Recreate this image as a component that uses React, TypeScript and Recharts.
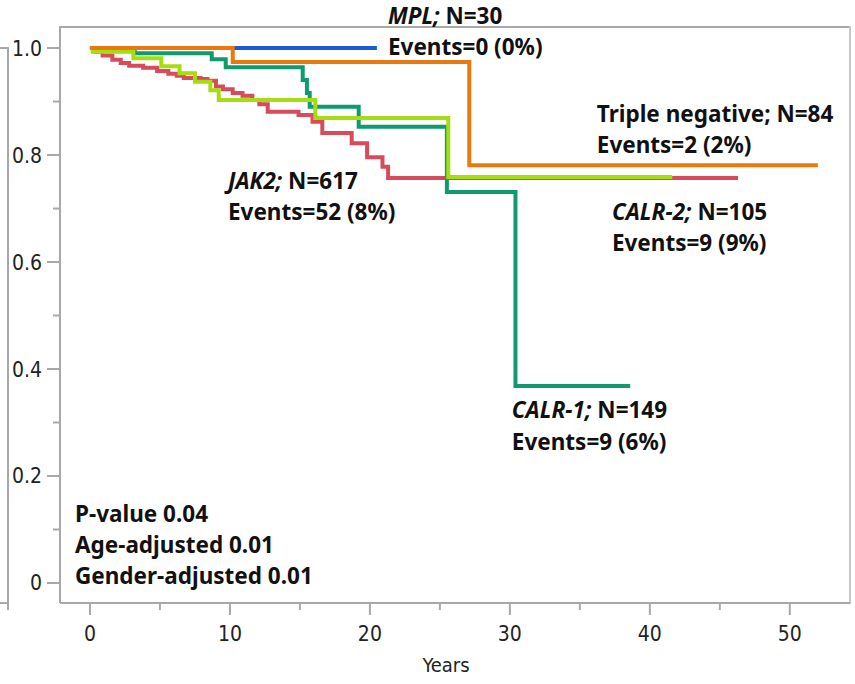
import { LineChart, Line, XAxis, YAxis, ReferenceDot } from 'recharts';

// survival curves (years -> probability)
const mplCurve = [
  { t: 0, v: 1 },
  { t: 20.5, v: 1 },
];
const jak2Curve = [
  { t: 0, v: 1 }, { t: 0.4, v: 0.993 }, { t: 0.9, v: 0.986 }, { t: 1.6, v: 0.978 },
  { t: 2.2, v: 0.972 }, { t: 2.8, v: 0.967 }, { t: 3.8, v: 0.963 }, { t: 4.8, v: 0.957 },
  { t: 5.6, v: 0.952 }, { t: 6.2, v: 0.948 }, { t: 6.7, v: 0.944 }, { t: 7.9, v: 0.942 },
  { t: 8.4, v: 0.939 }, { t: 9.0, v: 0.928 }, { t: 9.5, v: 0.923 }, { t: 10.2, v: 0.916 },
  { t: 10.9, v: 0.911 }, { t: 11.6, v: 0.903 }, { t: 12.1, v: 0.895 }, { t: 12.7, v: 0.881 },
  { t: 14.9, v: 0.875 }, { t: 15.9, v: 0.862 }, { t: 16.6, v: 0.841 }, { t: 18.7, v: 0.822 },
  { t: 19.8, v: 0.796 }, { t: 20.9, v: 0.778 }, { t: 21.3, v: 0.757 }, { t: 46.3, v: 0.757 },
];
const calr1Curve = [
  { t: 0, v: 1 }, { t: 3.2, v: 0.99 }, { t: 8.7, v: 0.979 }, { t: 9.7, v: 0.964 },
  { t: 15.2, v: 0.94 }, { t: 15.5, v: 0.916 }, { t: 15.7, v: 0.89 }, { t: 19.2, v: 0.853 },
  { t: 25.5, v: 0.731 }, { t: 30.4, v: 0.368 }, { t: 38.6, v: 0.368 },
];
const calr2Curve = [
  { t: 0, v: 1 }, { t: 0.2, v: 0.993 }, { t: 3.1, v: 0.981 }, { t: 5.1, v: 0.966 },
  { t: 6.4, v: 0.953 }, { t: 7.5, v: 0.937 }, { t: 8.6, v: 0.921 }, { t: 9.2, v: 0.903 },
  { t: 16.1, v: 0.869 }, { t: 25.6, v: 0.759 }, { t: 41.6, v: 0.759 },
];
const tripleNegCurve = [
  { t: 0, v: 1 },
  { t: 10.2, v: 0.974 },
  { t: 27.1, v: 0.781 },
  { t: 52.0, v: 0.781 },
];

const xTicks = [0, 5, 10, 15, 20, 25, 30, 35, 40, 45, 50];
const yTicks = [0, 0.1, 0.2, 0.3, 0.4, 0.5, 0.6, 0.7, 0.8, 0.9, 1.0];
const yTickLabels: Record<string, string> = { '0': '0', '0.2': '0.2', '0.4': '0.4', '0.6': '0.6', '0.8': '0.8', '1': '1.0' };

const X_MIN = -2.14;
const X_MAX = 54.3;
const Y_MIN = -0.0374;
const Y_MAX = 1.0393;

const axisGray = '#a8a8a8';
const tickFont = '"Liberation Sans Narrow", "DejaVu Sans Condensed", sans-serif';
const noteFont = '"Noto Sans", "Open Sans", sans-serif';

function YTick(props: any) {
  const { x, y, payload } = props;
  const label = yTickLabels[String(payload.value)];
  const major = label !== undefined;
  return (
    <g>
      <line x1={x - (major ? 13 : 7)} x2={x} y1={y} y2={y} stroke={axisGray} strokeWidth={2} />
      {major && (
        <text x={x - 18} y={y + 7.5} textAnchor="end" fontFamily={tickFont} fontSize={21} fill="#222">
          {label}
        </text>
      )}
    </g>
  );
}

function XTick(props: any) {
  const { x, y, payload } = props;
  const major = payload.value % 10 === 0;
  return (
    <g>
      <line x1={x} x2={x} y1={y} y2={y + (major ? 12 : 7)} stroke={axisGray} strokeWidth={2} />
      {major && (
        <text x={x} y={y + 38} textAnchor="middle" fontFamily={tickFont} fontSize={21} fill="#222">
          {payload.value}
        </text>
      )}
    </g>
  );
}

// two-line annotation anchored at a data point
function note(italic: string, rest: string, second: string) {
  return (p: any) => (
    <text x={p.cx} y={p.cy + 8.5} fontFamily={noteFont} fontSize={22.5} fontWeight="bold" fill="#111">
      <tspan fontStyle="italic">{italic}</tspan>
      <tspan>{rest}</tspan>
      <tspan x={p.cx} dy={31.5}>{second}</tspan>
    </text>
  );
}

function stats(p: any) {
  return (
    <text x={p.cx} y={p.cy + 8.5} fontFamily={noteFont} fontSize={22.5} fontWeight="bold" fill="#111">
      <tspan>P-value 0.04</tspan>
      <tspan x={p.cx} dy={31}>Age-adjusted 0.01</tspan>
      <tspan x={p.cx} dy={31}>Gender-adjusted 0.01</tspan>
    </text>
  );
}

export default function App() {
  return (
    <div style={{ position: 'absolute', left: 0, top: 0, width: 855, height: 684, background: '#fff' }}>
      {/* edge of the neighbouring panel */}
      <div style={{ position: 'absolute', left: 7, top: 47, width: 2, height: 563, background: axisGray }} />
      <div style={{ position: 'absolute', left: 0, top: 47, width: 8, height: 2, background: axisGray }} />
      <div style={{ position: 'absolute', left: 0, top: 602, width: 8, height: 2, background: axisGray }} />
      {/* top and right edges of the plot frame */}
      <div style={{ position: 'absolute', left: 59, top: 26, width: 791, height: 2, background: axisGray }} />
      <div style={{ position: 'absolute', left: 849, top: 26, width: 2, height: 578, background: '#c8c8c8' }} />
      <LineChart width={855} height={684} margin={{ top: 27, right: 5, bottom: 0, left: 0 }} style={{ position: 'absolute', left: 0, top: 0 }}>
        <XAxis
          type="number"
          dataKey="t"
          domain={[X_MIN, X_MAX]}
          ticks={xTicks}
          allowDataOverflow
          height={81}
          stroke={axisGray}
          strokeWidth={2}
          tickLine={false}
          tickSize={0}
          tickMargin={0}
          tick={<XTick />}
          label={{
            content: ({ viewBox }: any) => (
              <text x={viewBox.x + viewBox.width / 2 - 9} y={viewBox.y + 69} textAnchor="middle" fontFamily={tickFont} fontSize={20} fill="#222">
                Years
              </text>
            ),
          }}
        />
        <YAxis
          type="number"
          dataKey="v"
          domain={[Y_MIN, Y_MAX]}
          ticks={yTicks}
          allowDataOverflow
          width={60}
          stroke={axisGray}
          strokeWidth={2}
          tickLine={false}
          tickSize={0}
          tickMargin={0}
          tick={<YTick />}
        />
        <Line data={mplCurve} dataKey="v" type="stepAfter" stroke="#1a5ad6" strokeWidth={4} dot={false} isAnimationActive={false} />
        <Line data={jak2Curve} dataKey="v" type="stepAfter" stroke="#d84b5b" strokeWidth={4} dot={false} isAnimationActive={false} />
        <Line data={calr1Curve} dataKey="v" type="stepAfter" stroke="#0f9a6f" strokeWidth={4} dot={false} isAnimationActive={false} />
        <Line data={calr2Curve} dataKey="v" type="stepAfter" stroke="#a6dc12" strokeWidth={4} dot={false} isAnimationActive={false} />
        <Line data={tripleNegCurve} dataKey="v" type="stepAfter" stroke="#e8790e" strokeWidth={4} dot={false} isAnimationActive={false} />
        <ReferenceDot x={21.29} y={1.061} r={0} ifOverflow="visible" shape={note('MPL;', ' N=30', 'Events=0 (0%)')} />
        <ReferenceDot x={36.21} y={0.8785} r={0} ifOverflow="visible" shape={note('', 'Triple negative; N=84', 'Events=2 (2%)')} />
        <ReferenceDot x={9.86} y={0.7533} r={0} ifOverflow="visible" shape={note('JAK2;', ' N=617', 'Events=52 (8%)')} />
        <ReferenceDot x={37.29} y={0.6953} r={0} ifOverflow="visible" shape={note('CALR-2;', ' N=105', 'Events=9 (9%)')} />
        <ReferenceDot x={30.14} y={0.3234} r={0} ifOverflow="visible" shape={note('CALR-1;', ' N=149', 'Events=9 (6%)')} />
        <ReferenceDot x={-1.07} y={0.129} r={0} ifOverflow="visible" shape={stats} />
      </LineChart>
    </div>
  );
}
